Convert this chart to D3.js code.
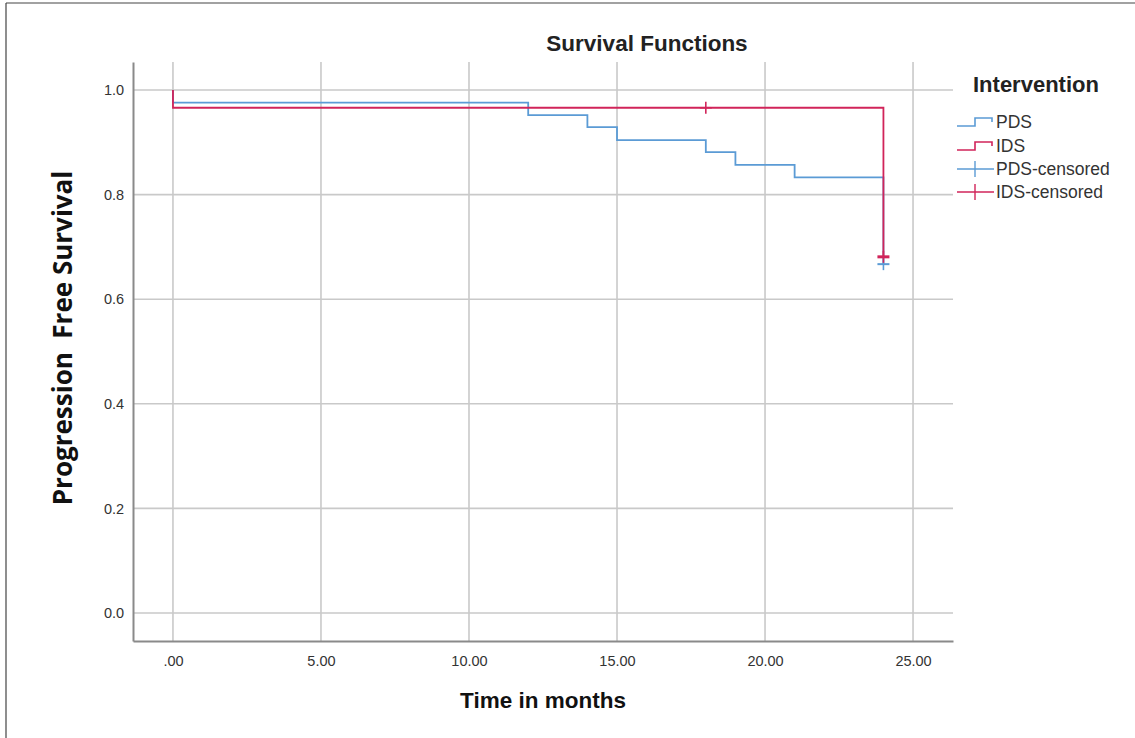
<!DOCTYPE html>
<html>
<head>
<meta charset="utf-8">
<script src="https://cdn.jsdelivr.net/npm/d3@7"></script>
<style>
html,body{margin:0;padding:0;background:#fff;}
svg{display:block;}
</style>
</head>
<body>
<svg id="chart" width="1135" height="738"></svg>
<script>
// ---- data ----
const pdsTimes  = [0, 0, 12, 14, 15, 18, 19, 21, 24];
const pdsSurv   = [1.0, 0.976, 0.952, 0.929, 0.904, 0.881, 0.857, 0.833, 0.667];
const idsTimes  = [0, 0, 24];
const idsSurv   = [1.0, 0.966, 0.681];
const pdsCensT  = [24];
const pdsCensS  = [0.667];
const idsCensT  = [18, 24];
const idsCensS  = [0.966, 0.681];
const xTicks    = [0, 5, 10, 15, 20, 25];
const xTickLabels = [".00", "5.00", "10.00", "15.00", "20.00", "25.00"];
const yTicks    = [0, 0.2, 0.4, 0.6, 0.8, 1.0];
const yTickLabels = ["0.0", "0.2", "0.4", "0.6", "0.8", "1.0"];
const legendLabels = ["PDS", "IDS", "PDS-censored", "IDS-censored"];
const pdsColor = "#5b9bd5";
const idsColor = "#d1245a";

const svg = d3.select("#chart");
const font = "'Liberation Sans', Arial, sans-serif";

// outer frame (top and left edges visible)
svg.append("line").attr("x1",6).attr("y1",3).attr("x2",1135).attr("y2",3).attr("stroke","#444").attr("stroke-width",1.2);
svg.append("line").attr("x1",6).attr("y1",3).attr("x2",6).attr("y2",738).attr("stroke","#444").attr("stroke-width",1.2);

const L = 133, R = 953, T = 62, B = 641;
const x = d3.scaleLinear().domain([-1.35, 26.35]).range([L, R]);
const y = d3.scaleLinear().domain([-0.0535, 1.0535]).range([B, T]);

// gridlines
const g = svg.append("g");
g.selectAll(".hg").data(yTicks).join("line")
  .attr("x1", L).attr("x2", R).attr("y1", d => y(d)).attr("y2", d => y(d))
  .attr("stroke", "#c9c9c9").attr("stroke-width", 1.6);
g.selectAll(".vg").data(xTicks).join("line")
  .attr("y1", T).attr("y2", B).attr("x1", d => x(d)).attr("x2", d => x(d))
  .attr("stroke", "#c9c9c9").attr("stroke-width", 1.6);

// axes
const xAxis = d3.axisBottom(x).tickValues(xTicks).tickSize(0).tickFormat((d,i)=>xTickLabels[i]);
const yAxis = d3.axisLeft(y).tickValues(yTicks).tickSize(0).tickFormat((d,i)=>yTickLabels[i]);
const gx = svg.append("g").attr("transform", `translate(0,${B})`).call(xAxis);
gx.select(".domain").attr("stroke", "#8a8a8a").attr("stroke-width", 2);
gx.selectAll("text").attr("font-family", font).attr("font-size", 14.5).attr("fill", "#333").attr("dy", "1.55em");
const gy = svg.append("g").attr("transform", `translate(${L},0)`).call(yAxis);
gy.select(".domain").attr("stroke", "#8a8a8a").attr("stroke-width", 2);
gy.selectAll("text").attr("font-family", font).attr("font-size", 14.5).attr("fill", "#333").attr("dx", "-0.4em");

// step curves
function stepPath(ts, ss) {
  const pts = ts.map((t, i) => [t, ss[i]]);
  return d3.line().x(d => x(d[0])).y(d => y(d[1])).curve(d3.curveStepAfter)(pts);
}
svg.append("path").attr("d", stepPath(pdsTimes, pdsSurv)).attr("fill", "none")
  .attr("stroke", pdsColor).attr("stroke-width", 1.8);
svg.append("path").attr("d", stepPath(idsTimes, idsSurv)).attr("fill", "none")
  .attr("stroke", idsColor).attr("stroke-width", 1.8);

// censor marks
function plus(sel, cx, cy, color, w) {
  sel.append("line").attr("x1", cx-6).attr("x2", cx+6).attr("y1", cy).attr("y2", cy).attr("stroke", color).attr("stroke-width", w);
  sel.append("line").attr("x1", cx).attr("x2", cx).attr("y1", cy-6).attr("y2", cy+6).attr("stroke", color).attr("stroke-width", 1.6);
}
pdsCensT.forEach((t,i) => plus(svg, x(t), y(pdsCensS[i]), pdsColor, 2));
idsCensT.forEach((t,i) => plus(svg, x(t), y(idsCensS[i]), idsColor, i === 1 ? 3 : 1.6));

// titles
svg.append("text").attr("x", 647).attr("y", 51).attr("text-anchor", "middle")
  .attr("font-family", font).attr("font-weight", "bold").attr("font-size", 22.5).attr("fill", "#222")
  .text("Survival Functions");
svg.append("text").attr("x", 543).attr("y", 708).attr("text-anchor", "middle")
  .attr("font-family", font).attr("font-weight", "bold").attr("font-size", 22.5).attr("fill", "#111")
  .text("Time in months");
svg.append("text").attr("transform", "translate(72,338) rotate(-90)").attr("text-anchor", "middle")
  .attr("font-family", "'Open Sans', 'Liberation Sans', sans-serif").attr("font-weight", "bold").attr("font-size", 26).attr("fill", "#111")
  .attr("xml:space", "preserve")
  .text("Progression  Free Survival");

// legend
const lg = svg.append("g");
lg.append("text").attr("x", 973).attr("y", 92).attr("font-family", font).attr("font-weight", "bold")
  .attr("font-size", 22).attr("fill", "#222").text("Intervention");
const ly = [122, 146, 169, 192];
const lc = [pdsColor, idsColor, pdsColor, idsColor];
legendLabels.forEach((lab, i) => {
  const cy = ly[i];
  if (i < 2) {
    lg.append("path").attr("d", `M957,${cy+4} H975 V${cy-4} H992 V${cy}`)
      .attr("fill", "none").attr("stroke", lc[i]).attr("stroke-width", 1.6);
  } else {
    lg.append("line").attr("x1", 957).attr("x2", 994).attr("y1", cy).attr("y2", cy).attr("stroke", lc[i]).attr("stroke-width", 1.4);
    lg.append("line").attr("x1", 975).attr("x2", 975).attr("y1", cy-8).attr("y2", cy+8).attr("stroke", lc[i]).attr("stroke-width", 1.4);
  }
  lg.append("text").attr("x", 996).attr("y", cy + 6).attr("font-family", font)
    .attr("font-size", 17.5).attr("fill", "#333").text(lab);
});
</script>
</body>
</html>
